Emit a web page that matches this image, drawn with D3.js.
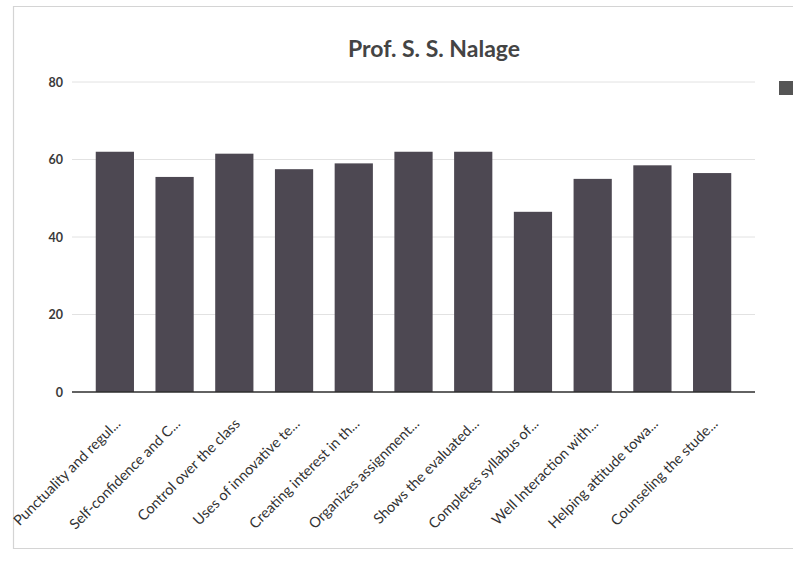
<!DOCTYPE html>
<html>
<head>
<meta charset="utf-8">
<script src="https://cdn.jsdelivr.net/npm/d3@7"></script>
<style>
  html, body { margin: 0; padding: 0; background: #fff; }
  svg { display: block; }
</style>
</head>
<body>
<svg id="chart" width="793" height="561"></svg>
<script>
const title = "Prof. S. S. Nalage";
const categories = [
  "Punctuality and regul...",
  "Self-confidence and C...",
  "Control over the class",
  "Uses of innovative te...",
  "Creating interest in th...",
  "Organizes assignment...",
  "Shows the evaluated...",
  "Completes syllabus of...",
  "Well Interaction with...",
  "Helping attitude towa...",
  "Counseling the stude..."
];
const values = [62, 55.5, 61.5, 57.5, 59, 62, 62, 46.5, 55, 58.5, 56.5];
const yTicks = [0, 20, 40, 60, 80];

const svg = d3.select("#chart");
const font = "Lato, 'Open Sans', 'DejaVu Sans', sans-serif";

// frame
svg.append("path")
  .attr("d", "M793,6.5 H13.5 V548.5 H793")
  .attr("fill", "none").attr("stroke", "#d4d4d4").attr("stroke-width", 1.2);

const plot = { left: 72, right: 755, top: 82, bottom: 392 };

const x = d3.scaleBand().domain(categories).range([85, 742]).paddingInner(0.36).paddingOuter(0.18);
const y = d3.scaleLinear().domain([0, 80]).range([plot.bottom, plot.top]);

// gridlines
svg.append("g").selectAll("line").data(yTicks.filter(t => t > 0)).join("line")
  .attr("x1", plot.left).attr("x2", plot.right)
  .attr("y1", d => y(d)).attr("y2", d => y(d))
  .attr("stroke", "#e2e2e2").attr("stroke-width", 1);

// y axis labels
const yAxis = d3.axisLeft(y).tickValues(yTicks).tickSize(0).tickPadding(9);
const gy = svg.append("g").attr("transform", `translate(${plot.left},0)`).call(yAxis);
gy.select(".domain").remove();
gy.selectAll("text").attr("font-family", font).attr("font-size", 12.5).attr("font-weight", "bold").attr("fill", "#3a3a3a");

// bars
svg.append("g").selectAll("rect").data(values).join("rect")
  .attr("x", (d, i) => x(categories[i]))
  .attr("y", d => y(d))
  .attr("width", x.bandwidth())
  .attr("height", d => y(0) - y(d))
  .attr("fill", "#4d4852");

// x axis
const xAxis = d3.axisBottom(x).tickSize(0).tickPadding(0);
const gx = svg.append("g").attr("transform", `translate(0,${plot.bottom})`).call(xAxis);
gx.select(".domain").remove();
svg.append("line").attr("x1", plot.left).attr("x2", plot.right)
  .attr("y1", plot.bottom).attr("y2", plot.bottom)
  .attr("stroke", "#2e2e2e").attr("stroke-width", 1.5);
gx.selectAll("text")
  .attr("font-family", font).attr("font-size", 14.5).attr("fill", "#333")
  .attr("text-anchor", "end")
  .attr("y", 0).attr("dy", "0.35em")
  .attr("transform", "translate(3,29) rotate(-45)");

// title
svg.append("text").attr("x", 434).attr("y", 57).attr("text-anchor", "middle")
  .attr("font-family", font).attr("font-size", 23).attr("font-weight", "bold").attr("fill", "#444")
  .text(title);

// legend swatch (cut off at right edge)
svg.append("rect").attr("x", 779).attr("y", 81).attr("width", 14).attr("height", 14).attr("fill", "#555");
</script>
</body>
</html>
